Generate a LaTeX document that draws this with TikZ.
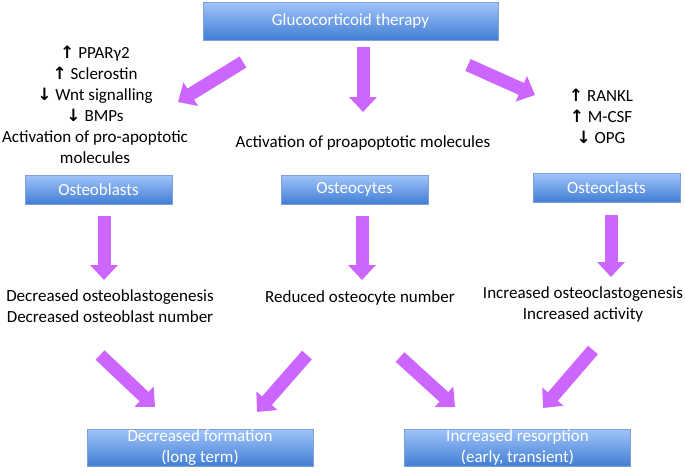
\documentclass[tikz,border=0pt]{standalone}
\usepackage{fontspec}
\setmainfont{Carlito}
\newfontfamily\symfont{DejaVu Sans}
\usetikzlibrary{arrows.meta,shadows}

\definecolor{arrowpurple}{RGB}{204,102,255}
\definecolor{boxtop}{RGB}{160,196,250}
\definecolor{boxbottom}{RGB}{66,126,212}
\definecolor{boxline}{RGB}{125,160,215}

\newcommand{\incr}{{\symfont\bfseries\fontsize{17}{17}\selectfont ↑}}
\newcommand{\decr}{{\symfont\bfseries\fontsize{17}{17}\selectfont ↓}}

\begin{document}
\begin{tikzpicture}[
  x={(1pt,0pt)},
  y={(0pt,-1pt)},
  font=\fontsize{17}{21}\selectfont,
  cellbox/.style={draw=boxline, line width=0.4pt, top color=boxtop,
    bottom color=boxbottom, text=white, align=center, inner sep=0pt,
    minimum width=147pt, minimum height=29pt,
    drop shadow={opacity=0.25, shadow xshift=0.6pt, shadow yshift=-1.2pt}},
  fatarrow/.style={draw=arrowpurple, line width=13pt,
    -{Triangle[length=15pt,width=27pt]}}
]
  \useasboundingbox (0,0) rectangle (685,471);

  % các hộp
  \node[cellbox, minimum width=295pt, minimum height=38pt] (gc) at (350.5,21) {Glucocorticoid therapy};
  \node[cellbox] (blasts) at (98.5,189.5) {Osteoblasts};
  \node[cellbox] (cytes)  at (354.5,189.5) {Osteocytes};
  \node[cellbox] (clasts) at (606.5,187.5) {Osteoclasts};
  \node[cellbox, minimum width=226pt, minimum height=37pt] (formation) at (200,447.5) {Decreased formation\\(long term)};
  \node[cellbox, minimum width=226pt, minimum height=37pt] (resorption) at (517.5,447.5) {Increased resorption\\(early, transient)};

  % các chữ
  \node[align=center] (blasttxt) at (95,105) {\incr{} PPARγ2\\\incr{} Sclerostin\\\decr{} Wnt signalling\\\decr{} BMPs\\Activation of pro-apoptotic\\molecules};
  \node (cytetxt) at (363,143) {Activation of proapoptotic molecules};
  \node[align=center] (clasttxt) at (601,116) {\incr{} RANKL\\\incr{} M-CSF\\\decr{} OPG};
  \node[align=center] (blastres) at (110,306) {Decreased osteoblastogenesis\\Decreased osteoblast number};
  \node (cyteres) at (360,298) {Reduced osteocyte number};
  \node[align=center] (clastres) at (583,304) {Increased osteoclastogenesis\\Increased activity};

  % các mũi tên
  \coordinate (a1) at (243,62);  \coordinate (b1) at (178,102);
  \coordinate (a2) at (363,47);  \coordinate (b2) at (363,112);
  \coordinate (a3) at (468,65);  \coordinate (b3) at (535,95);
  \coordinate (a4) at (104,216); \coordinate (b4) at (104,280);
  \coordinate (a5) at (362,216); \coordinate (b5) at (362,280);
  \coordinate (a6) at (611,215); \coordinate (b6) at (611,277);
  \coordinate (a7) at (100,355); \coordinate (b7) at (155,407);
  \coordinate (a8) at (307,355); \coordinate (b8) at (257,412);
  \coordinate (a9) at (400,357); \coordinate (b9) at (455,407);
  \coordinate (a10) at (593,350); \coordinate (b10) at (543,408);
  \foreach \i in {1,...,10}
    \draw[fatarrow] (a\i) -- (b\i);
\end{tikzpicture}
\end{document}
